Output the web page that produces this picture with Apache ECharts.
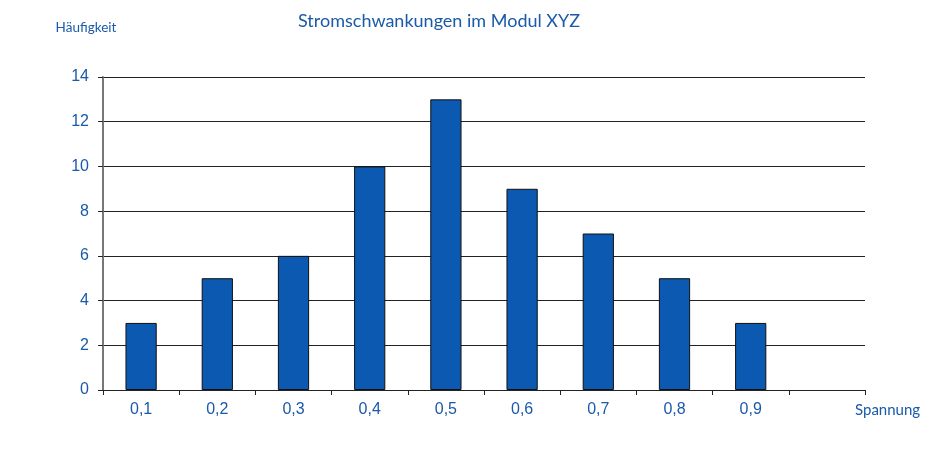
<!DOCTYPE html>
<html>
<head>
<meta charset="utf-8">
<script src="https://cdn.jsdelivr.net/npm/echarts@6/dist/echarts.min.js"></script>
<style>
  html, body { margin: 0; padding: 0; background: #fff; }
  #chart { width: 945px; height: 459px; }
</style>
</head>
<body>
<div id="chart"></div>
<script>
// Spannung categories (last slot is empty)
var categories = ['0,1', '0,2', '0,3', '0,4', '0,5', '0,6', '0,7', '0,8', '0,9', ''];
var counts = [3, 5, 6, 10, 13, 9, 7, 5, 3, null];
var yTicks = { min: 0, max: 14, interval: 2 };

var blue = '#1a5aa8';
var myChart = echarts.init(document.getElementById('chart'));
var option = {
    animation: false,
    title: {
        text: 'Stromschwankungen im Modul XYZ',
        left: 293,
        top: 7,
        textStyle: {
            color: blue,
            fontFamily: 'Lato',
            fontWeight: 'normal',
            fontSize: 18
        }
    },
    grid: {
        left: 103,
        right: 80,
        top: 77,
        bottom: 69
    },
    xAxis: {
        type: 'category',
        data: categories,
        boundaryGap: true,
        name: 'Spannung',
        nameLocation: 'end',
        nameGap: -10,
        nameTextStyle: {
            color: blue,
            fontFamily: 'Lato',
            fontSize: 15,
            align: 'left',
            verticalAlign: 'top',
            padding: [13, 0, 0, 0]
        },
        axisLine: { lineStyle: { color: '#222', width: 1 } },
        axisTick: { show: true, length: 5, alignWithLabel: false, lineStyle: { color: '#222' } },
        axisLabel: {
            color: blue,
            fontFamily: 'Liberation Sans',
            fontSize: 16,
            margin: 12
        }
    },
    yAxis: {
        type: 'value',
        min: yTicks.min,
        max: yTicks.max,
        interval: yTicks.interval,
        name: 'Häufigkeit',
        nameLocation: 'end',
        nameGap: 42,
        nameTextStyle: {
            color: blue,
            fontFamily: 'Lato',
            fontSize: 13.5,
            align: 'center',
            padding: [0, 34, 0, 0]
        },
        axisLine: { show: true, lineStyle: { color: '#777', width: 2 } },
        axisTick: { show: true, length: 5, lineStyle: { color: '#222' } },
        axisLabel: {
            color: blue,
            fontFamily: 'Liberation Sans',
            fontSize: 16,
            margin: 14
        },
        splitLine: { lineStyle: { color: '#222', width: 1 } }
    },
    series: [{
        type: 'bar',
        data: counts,
        barWidth: '41%',
        itemStyle: {
            color: '#0b59b0',
            borderColor: '#111',
            borderWidth: 1
        }
    }]
};
myChart.setOption(option);
</script>
</body>
</html>
